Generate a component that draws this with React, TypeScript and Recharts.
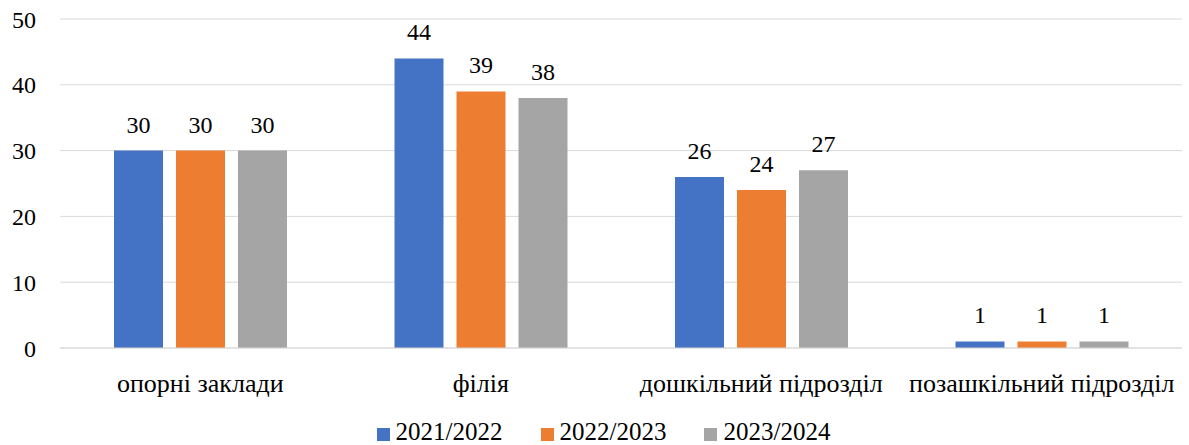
import React from 'react';
import { BarChart, Bar, XAxis, YAxis, CartesianGrid, LabelList, Legend } from 'recharts';

const categories = ['опорні заклади', 'філія', 'дошкільний підрозділ', 'позашкільний підрозділ'];
const s2021 = [30, 44, 26, 1];
const s2022 = [30, 39, 24, 1];
const s2023 = [30, 38, 27, 1];
const seriesNames = ['2021/2022', '2022/2023', '2023/2024'];
const colors = ['#4472C4', '#ED7D31', '#A5A5A5'];
const yTicks = [0, 10, 20, 30, 40, 50];

const data = categories.map((c, i) => ({ name: c, a: s2021[i], b: s2022[i], c: s2023[i] }));
const keys = ['a', 'b', 'c'];
const font = '"Liberation Serif", "Times New Roman", serif';

export default function App() {
  return (
    <div style={{ position: 'absolute', left: 0, top: 0, fontFamily: font }}>
      <BarChart
        width={1189}
        height={445}
        data={data}
        margin={{ top: 19, right: 7, left: 0, bottom: 57 }}
        barSize={49}
        barGap={13}
        style={{ fontFamily: font }}
      >
        <CartesianGrid vertical={false} stroke="#d9d9d9" strokeWidth={1} />
        <XAxis
          dataKey="name"
          axisLine={{ stroke: '#d9d9d9', strokeWidth: 1 }}
          tickLine={false}
          tickSize={0}
          tickMargin={26}
          height={40}
          tick={{ fill: '#000', fontSize: 26, fontFamily: font }}
          interval={0}
        />
        <YAxis
          domain={[0, 50]}
          ticks={yTicks}
          axisLine={false}
          tickLine={false}
          tickSize={0}
          tickMargin={24}
          width={60}
          tick={{ fill: '#000', fontSize: 24, fontFamily: font }}
        />
        <Legend
          verticalAlign="middle"
          align="center"
          layout="horizontal"
          iconType="square"
          iconSize={13}
          wrapperStyle={{ top: 418, left: 56, width: 1133, fontFamily: font, fontSize: 25 }}
          formatter={(v: string) => <span style={{ color: '#000', marginRight: 28, marginLeft: 2, fontFamily: font }}>{v}</span>}
        />
        {keys.map((k, i) => (
          <Bar key={k} dataKey={k} name={seriesNames[i]} fill={colors[i]} isAnimationActive={false}>
            <LabelList dataKey={k} position="top" offset={18} fill="#000" fontSize={24} fontFamily={font} />
          </Bar>
        ))}
      </BarChart>
    </div>
  );
}
